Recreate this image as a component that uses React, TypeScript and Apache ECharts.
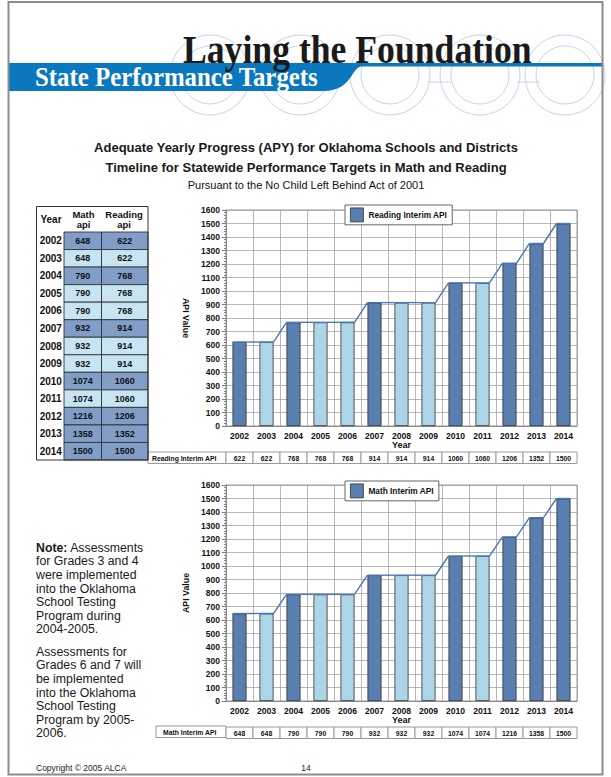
import React, { useEffect, useRef } from "react";
import * as echarts from "echarts";

const years = ["2002", "2003", "2004", "2005", "2006", "2007", "2008", "2009", "2010", "2011", "2012", "2013", "2014"];
const mathApi = [648, 648, 790, 790, 790, 932, 932, 932, 1074, 1074, 1216, 1358, 1500];
const readingApi = [622, 622, 768, 768, 768, 914, 914, 914, 1060, 1060, 1206, 1352, 1500];
const readingName = "Reading Interim API";
const mathName = "Math Interim API";
const headerTitle = "Laying the Foundation";
const headerSubtitle = "State Performance Targets";
const subtitleLines = [
  "Adequate Yearly Progress (APY) for Oklahoma Schools and Districts",
  "Timeline for Statewide Performance Targets in Math and Reading",
  "Pursuant to the No Child Left Behind Act of 2001",
];
const noteParagraph1 = ["{b|Note:} Assessments", "for Grades 3 and 4", "were implemented", "into the Oklahoma", "School Testing", "Program during", "2004-2005."];
const noteParagraph2 = ["Assessments for", "Grades 6 and 7 will", "be implemented", "into the Oklahoma", "School Testing", "Program by 2005-", "2006."];
const copyrightText = "Copyright \u00a9 2005 ALCA";
const pageNumber = "14";

const DARK_BAR = "#587fb0";
const LIGHT_BAR = "#acd5e8";
const DARK_CELL = "#809ec8";
const LIGHT_CELL = "#c6e4f1";
const STEP_LINE = "#4b79b6";
const BRAND_BLUE = "#0a78be";
const RING = "#c6d3ea";
const GRID_GRAY = "#9a9a9a";
const SANS = '"Liberation Sans", Arial, sans-serif';
const SERIF = '"Liberation Serif", "Times New Roman", serif';

echarts.graphic.registerShape(
  "band",
  echarts.graphic.extendPath(
    "M8,63 L602,63 L602,66.5 L362,66.5 C351,66.5 353,90.5 324,91 L8,91 Z",
    {}
  )
);

const isNewTarget = (arr: number[], i: number) => i === 0 || arr[i] !== arr[i - 1];

function chartParts(name: string, values: number[], gi: number, rotate: number) {
  const xAxis = {
    type: "category",
    gridIndex: gi,
    data: years,
    boundaryGap: true,
    axisTick: { show: false },
    axisLine: { lineStyle: { color: "#8a8a8a", width: 1 } },
    splitLine: { show: true, interval: 0, lineStyle: { color: GRID_GRAY, width: 0.7 } },
    axisLabel: { interval: 0, margin: 5, color: "#111", fontFamily: SANS, fontWeight: "bold", fontSize: 8.6 },
    name: "Year",
    nameLocation: "middle",
    nameGap: 13,
    nameTextStyle: { color: "#111", fontFamily: SANS, fontWeight: "bold", fontSize: 9 },
  };
  const yAxis = {
    type: "value",
    gridIndex: gi,
    min: 0,
    max: 1600,
    interval: 100,
    axisLine: { show: true, lineStyle: { color: "#8a8a8a" } },
    axisTick: { show: true, length: 4, lineStyle: { color: "#777" } },
    minorTick: { show: true, splitNumber: 5, length: 2, lineStyle: { color: "#888" } },
    splitLine: { show: true, lineStyle: { color: GRID_GRAY, width: 0.7 } },
    axisLabel: {
      margin: 6,
      color: "#111",
      fontFamily: SANS,
      fontWeight: "bold",
      fontSize: 8.5,
      formatter: (v: number) => String(v),
    },
    name: "API Value",
    nameLocation: "middle",
    nameRotate: rotate,
    nameGap: 26,
    nameTextStyle: { color: "#111", fontFamily: SANS, fontWeight: "bold", fontSize: 8.8 },
  };
  const series: any[] = [
    {
      name,
      type: "bar",
      xAxisIndex: gi,
      yAxisIndex: gi,
      barWidth: "52%",
      z: 2,
      itemStyle: { color: DARK_BAR, borderColor: "#2e2e2e", borderWidth: 0.8 },
      data: values.map((v, i) => ({
        value: v,
        itemStyle: { color: isNewTarget(values, i) ? DARK_BAR : LIGHT_BAR },
      })),
    },
    {
      type: "custom",
      xAxisIndex: gi,
      yAxisIndex: gi,
      z: 4,
      clip: false,
      silent: true,
      data: values.map((v, i) => [i, v, i < values.length - 1 ? values[i + 1] : v]),
      renderItem: (params: any, api: any) => {
        const i = api.value(0);
        const p = api.coord([i, api.value(1)]);
        const bw = api.size([1, 0])[0] * 0.52;
        const pts: number[][] = [
          [p[0] - bw / 2, p[1]],
          [p[0] + bw / 2, p[1]],
        ];
        if (i < values.length - 1) {
          const q = api.coord([i + 1, api.value(2)]);
          pts.push([q[0] - bw / 2, q[1]]);
        }
        return {
          type: "polyline",
          shape: { points: pts },
          style: { stroke: STEP_LINE, lineWidth: 1.4, fill: "none" },
        };
      },
    },
    {
      type: "custom",
      xAxisIndex: gi,
      yAxisIndex: gi,
      z: 3,
      clip: false,
      silent: true,
      data: values.map((v, i) => [i, v]),
      renderItem: (params: any, api: any) => {
        const i = api.value(0);
        const p = api.coord([i, 0]);
        const cw = api.size([1, 0])[0];
        const top = p[1] + 26;
        return {
          type: "group",
          children: [
            {
              type: "rect",
              shape: { x: p[0] - cw / 2, y: top, width: cw, height: 11.5 },
              style: { fill: "#fff", stroke: "#9a9a9a", lineWidth: 1 },
            },
            {
              type: "text",
              style: {
                text: String(api.value(1)),
                x: p[0],
                y: top + 6,
                align: "center",
                verticalAlign: "middle",
                font: `bold 6.8px ${SANS}`,
                fill: "#111",
              },
            },
          ],
        };
      },
    },
  ];
  return { xAxis, yAxis, series };
}

export default function App() {
  const ref = useRef<HTMLDivElement>(null);

  useEffect(() => {
    document.body.style.margin = "0";
    if (!ref.current) return;
    const chart = echarts.init(ref.current, null, { renderer: "svg" });

    const reading = chartParts(readingName, readingApi, 0, -90);
    const math = chartParts(mathName, mathApi, 1, 90);

    const tableSeries = {
      type: "custom",
      xAxisIndex: 2,
      yAxisIndex: 2,
      clip: false,
      silent: true,
      data: years.map((y, i) => [0, i, mathApi[i], readingApi[i]]),
      renderItem: (params: any, api: any) => {
        const i = api.value(1);
        const cs = params.coordSys;
        const c = api.coord([0, i]);
        const h = api.size([0, 1])[1];
        const top = c[1] - h / 2;
        const x0 = cs.x;
        const yearW = 27.5;
        const mathW = 37.5;
        const readW = cs.width - yearW - mathW;
        const mx = x0 + yearW;
        const rx = mx + mathW;
        const fill = isNewTarget(readingApi, i) ? DARK_CELL : LIGHT_CELL;
        return {
          type: "group",
          children: [
            { type: "rect", shape: { x: mx, y: top, width: mathW, height: h }, style: { fill, stroke: "#333", lineWidth: 0.9 } },
            { type: "rect", shape: { x: rx, y: top, width: readW, height: h }, style: { fill, stroke: "#333", lineWidth: 0.9 } },
            {
              type: "text",
              style: { text: years[i], x: x0 + yearW / 2 + 0.5, y: c[1], align: "center", verticalAlign: "middle", font: `bold 10px ${SANS}`, fill: "#111" },
            },
            {
              type: "text",
              style: { text: String(api.value(2)), x: mx + mathW / 2, y: c[1], align: "center", verticalAlign: "middle", font: `bold 9px ${SANS}`, fill: "#111" },
            },
            {
              type: "text",
              style: { text: String(api.value(3)), x: rx + readW / 2, y: c[1], align: "center", verticalAlign: "middle", font: `bold 9px ${SANS}`, fill: "#111" },
            },
          ],
        };
      },
    };

    const legendBase = {
      orient: "horizontal",
      left: 345,
      padding: [2.5, 5],
      itemWidth: 13,
      itemHeight: 14,
      icon: "rect",
      backgroundColor: "#fff",
      borderColor: "#666",
      borderWidth: 1,
      borderRadius: 0,
      selectedMode: false,
      itemStyle: { borderColor: "#333", borderWidth: 0.8 },
      textStyle: { color: "#111", fontFamily: SANS, fontWeight: "bold", fontSize: 8.3, padding: [0, 0, 0, 0] },
    };

    const ringCenters = [210, 300, 390, 480, 565];
    const rings: any[] = [];
    ringCenters.forEach((cx) => {
      rings.push({ type: "circle", shape: { cx, cy: 75, r: 40 }, style: { fill: "none", stroke: RING, lineWidth: 1 }, silent: true });
      rings.push({ type: "circle", shape: { cx, cy: 75, r: 29 }, style: { fill: "none", stroke: RING, lineWidth: 1 }, silent: true });
    });
    rings.push({ type: "line", shape: { x1: 427, y1: 82, x2: 451, y2: 82 }, style: { stroke: RING, lineWidth: 1 } });
    rings.push({ type: "line", shape: { x1: 517, y1: 82, x2: 540, y2: 82 }, style: { stroke: RING, lineWidth: 1 } });

    const noteStyle = { fontFamily: SANS, fontSize: 12.3, fill: "#1a1a1a", lineHeight: 13.6, rich: { b: { fontWeight: "bold", fontFamily: SANS, fontSize: 12.3, lineHeight: 13.6 } } };

    const graphic: any[] = [
      ...rings,
      { type: "band", style: { fill: BRAND_BLUE }, z: 1 },
      {
        type: "text",
        x: 183,
        y: 49.5,
        scaleX: 0.87,
        z: 2,
        style: { text: headerTitle, font: `bold 41px ${SERIF}`, fill: "#1a1a1a", align: "left", verticalAlign: "middle" },
      },
      {
        type: "text",
        x: 35,
        y: 77.5,
        scaleX: 0.92,
        z: 2,
        style: { text: headerSubtitle, font: `bold 27px ${SERIF}`, fill: "#fff", align: "left", verticalAlign: "middle" },
      },
      { type: "text", x: 306, y: 147, style: { text: subtitleLines[0], font: `bold 13px ${SANS}`, fill: "#1a1a1a", align: "center", verticalAlign: "middle" } },
      { type: "text", x: 306, y: 167, style: { text: subtitleLines[1], font: `bold 13px ${SANS}`, fill: "#1a1a1a", align: "center", verticalAlign: "middle" } },
      { type: "text", x: 306, y: 184.5, style: { text: subtitleLines[2], font: `11px ${SANS}`, fill: "#111", align: "center", verticalAlign: "middle" } },
      // table header and frame
      { type: "rect", shape: { x: 36.5, y: 206.5, width: 111.5, height: 253.5 }, style: { fill: "none", stroke: "#333", lineWidth: 1 }, z: 5 },
      { type: "text", x: 51, y: 219.5, style: { text: "Year", font: `bold 10px ${SANS}`, fill: "#111", align: "center", verticalAlign: "middle" } },
      { type: "text", x: 83.5, y: 219.5, style: { text: "Math\napi", font: `bold 9.5px ${SANS}`, lineHeight: 10.5, fill: "#111", align: "center", verticalAlign: "middle" } },
      { type: "text", x: 124, y: 219.5, style: { text: "Reading\napi", font: `bold 9.5px ${SANS}`, lineHeight: 10.5, fill: "#111", align: "center", verticalAlign: "middle" } },
      // data table row labels
      { type: "rect", shape: { x: 148, y: 452, width: 78, height: 11.5 }, style: { fill: "#fff", stroke: "#9a9a9a", lineWidth: 1 } },
      { type: "text", x: 152, y: 458, style: { text: readingName, font: `bold 6.8px ${SANS}`, fill: "#111", align: "left", verticalAlign: "middle" } },
      { type: "rect", shape: { x: 156, y: 726, width: 70, height: 11.5 }, style: { fill: "#fff", stroke: "#9a9a9a", lineWidth: 1 } },
      { type: "text", x: 163, y: 732, style: { text: mathName, font: `bold 6.8px ${SANS}`, fill: "#111", align: "left", verticalAlign: "middle" } },
      // notes
      { type: "text", x: 36, y: 541, style: { ...noteStyle, text: noteParagraph1.join("\n"), align: "left", verticalAlign: "top" } },
      { type: "text", x: 36, y: 645, style: { ...noteStyle, text: noteParagraph2.join("\n"), align: "left", verticalAlign: "top" } },
      { type: "text", x: 36, y: 768, style: { text: copyrightText, font: `8.5px ${SANS}`, fill: "#222", align: "left", verticalAlign: "middle" } },
      { type: "text", x: 306, y: 768, style: { text: pageNumber, font: `8.5px ${SANS}`, fill: "#222", align: "center", verticalAlign: "middle" } },
      // page frame
      { type: "rect", shape: { x: 8.5, y: 2, width: 594, height: 772.5 }, style: { fill: "none", stroke: "#8c8c8c", lineWidth: 2 }, z: 10 },
    ];

    chart.setOption({
      animation: false,
      backgroundColor: "#fff",
      grid: [
        { left: 226, top: 210, width: 351, height: 216, show: true, borderColor: GRID_GRAY, borderWidth: 1, backgroundColor: "transparent" },
        { left: 226, top: 485, width: 351, height: 216, show: true, borderColor: GRID_GRAY, borderWidth: 1, backgroundColor: "transparent" },
        { left: 36.5, top: 232, width: 111.5, height: 228 },
      ],
      legend: [
        { ...legendBase, top: 205, data: [readingName] },
        { ...legendBase, top: 481, data: [mathName] },
      ],
      xAxis: [
        reading.xAxis,
        math.xAxis,
        { type: "value", gridIndex: 2, min: 0, max: 1, show: false },
      ],
      yAxis: [
        reading.yAxis,
        math.yAxis,
        { type: "category", gridIndex: 2, data: years, inverse: true, show: false },
      ],
      series: [...reading.series, ...math.series, tableSeries],
      graphic,
    });

    return () => chart.dispose();
  }, []);

  return <div ref={ref} style={{ width: 611, height: 777, position: "relative", background: "#fff" }} />;
}
